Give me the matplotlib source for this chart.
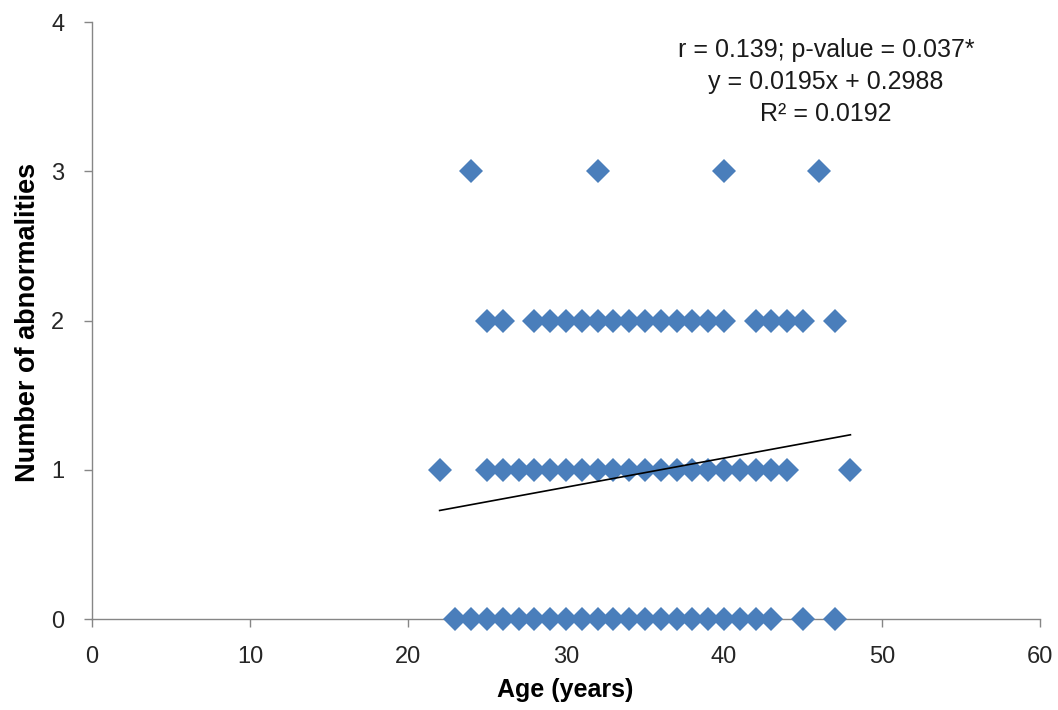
import matplotlib
matplotlib.use("Agg")
import matplotlib.pyplot as plt
import numpy as np

# ages, grouped by number of abnormalities
age_0 = [23, 24, 25, 26, 27, 28, 29, 30, 31, 32, 33, 34, 35, 36, 37, 38, 39, 40, 41, 42, 43, 45, 47]
age_1 = [22, 25, 26, 27, 28, 29, 30, 31, 32, 33, 34, 35, 36, 37, 38, 39, 40, 41, 42, 43, 44, 48]
age_2 = [25, 26, 28, 29, 30, 31, 32, 33, 34, 35, 36, 37, 38, 39, 40, 42, 43, 44, 45, 47]
age_3 = [24, 32, 40, 46]

slope = 0.0195
intercept = 0.2988
stats_text = "r = 0.139; p-value = 0.037*\ny = 0.0195x + 0.2988\nR² = 0.0192"

plt.rcParams['font.family'] = ['Liberation Sans', 'DejaVu Sans']

fig = plt.figure(figsize=(10.58, 7.10), dpi=100)
ax = fig.add_axes([0.087, 0.128, 0.896, 0.841])

marker_color = '#4A7EBB'
for level, ages in enumerate([age_0, age_1, age_2, age_3]):
    ax.plot(ages, [level] * len(ages), linestyle='none', marker='D',
            markersize=12.5, color=marker_color, markeredgewidth=0,
            clip_on=False, zorder=3)

all_ages = age_0 + age_1 + age_2 + age_3
xl = np.array([min(all_ages), max(all_ages)])
ax.plot(xl, slope * xl + intercept, color='black', linewidth=1.2, zorder=4)

ax.set_xlim(0, 60)
ax.set_ylim(0, 4)
ax.set_xticks(range(0, 61, 10))
ax.set_yticks(range(0, 5))

for side in ['top', 'right']:
    ax.spines[side].set_visible(False)
for side in ['left', 'bottom']:
    ax.spines[side].set_color('#868686')
    ax.spines[side].set_linewidth(1.0)
ax.tick_params(colors='#868686', labelcolor='#262626', labelsize=17,
               length=6, width=1.0, direction='out')
ax.tick_params(axis='x', pad=13)
ax.tick_params(axis='y', pad=14)

ax.set_xlabel('Age (years)', fontsize=18, fontweight='bold', va='center')
ax.xaxis.set_label_coords(0.499, -0.119)
ax.set_ylabel('Number of abnormalities', fontsize=19.5, fontweight='bold', va='center')
ax.yaxis.set_label_coords(-0.0675, 0.497)

ax.text(826 / 1058, 1 - 82 / 710, stats_text, transform=fig.transFigure,
        ha='center', va='center', fontsize=18, color='#1a1a1a', linespacing=1.4)

fig.savefig('out.png', dpi=100)
